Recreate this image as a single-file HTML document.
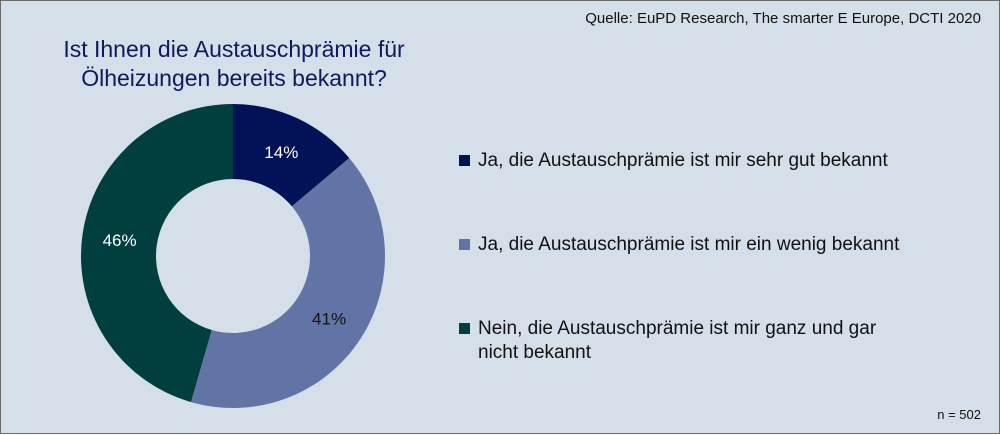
<!DOCTYPE html>
<html><head><meta charset="utf-8"><style>
html,body{margin:0;padding:0}
body{width:1000px;height:434px;overflow:hidden;font-family:"Liberation Sans",sans-serif}
#frame{position:absolute;left:0;top:0;width:998px;height:432px;border:1px solid #6b6b6b;background:#d5dfe9}
.t{position:absolute;white-space:nowrap}
.leg{position:absolute;left:458px;font-size:19px;color:#111;line-height:24px}
.sw{position:absolute;left:0;top:6px;width:11px;height:11px}
.leg span.txt{margin-left:19px;display:block}
</style></head><body>
<div id="frame">
<div class="t" style="right:18px;top:9px;font-size:15px;color:#111">Quelle: EuPD Research, The smarter E Europe, DCTI 2020</div>
<div class="t" style="left:0;width:466px;top:34px;font-size:23px;color:#0d1a5c;text-align:center;line-height:29px;white-space:normal">Ist Ihnen die Austauschprämie für<br>Ölheizungen bereits bekannt?</div>
<svg id="donut" width="470" height="434" style="position:absolute;left:0;top:0"></svg>
<div class="leg" style="top:148px"><div class="sw" style="background:#021257"></div><span class="txt">Ja, die Austauschprämie ist mir sehr gut bekannt</span></div>
<div class="leg" style="top:232px"><div class="sw" style="background:#6274a6"></div><span class="txt">Ja, die Austauschprämie ist mir ein wenig bekannt</span></div>
<div class="leg" style="top:316px"><div class="sw" style="background:#013f3e"></div><span class="txt">Nein, die Austauschprämie ist mir ganz und gar<br>nicht bekannt</span></div>
<div class="t" style="right:18px;top:406px;font-size:13px;color:#111">n = 502</div>
</div>
<script>
const categories=["Ja, sehr gut bekannt","Ja, ein wenig bekannt","Nein, gar nicht bekannt"];
const values=[14,41,46];
const labels=["14%","41%","46%"];
const colors=["#021257","#6274a6","#013f3e"];
const labelColors=["#fff","#111","#fff"];
const svg=document.getElementById('donut');
const NS="http://www.w3.org/2000/svg";
const cx=232,cy=255,R=152,r=77;
const total=values.reduce((a,b)=>a+b,0);
function pt(a,rad){return [cx+rad*Math.sin(a),cy-rad*Math.cos(a)];}
let a0=0;
values.forEach((v,i)=>{
  const a1=a0+v/total*2*Math.PI;
  const large=(a1-a0)>Math.PI?1:0;
  const [x0,y0]=pt(a0,R),[x1,y1]=pt(a1,R),[x2,y2]=pt(a1,r),[x3,y3]=pt(a0,r);
  const p=document.createElementNS(NS,'path');
  p.setAttribute('d',`M${x0},${y0}A${R},${R} 0 ${large} 1 ${x1},${y1}L${x2},${y2}A${r},${r} 0 ${large} 0 ${x3},${y3}Z`);
  p.setAttribute('fill',colors[i]);
  
  
  svg.appendChild(p);
  const am=(a0+a1)/2;
  const [lx,ly]=pt(am,(R+r)/2);
  const t=document.createElementNS(NS,'text');
  t.setAttribute('x',lx);t.setAttribute('y',ly+6);
  t.setAttribute('text-anchor','middle');
  t.setAttribute('font-size','17');
  t.setAttribute('font-family','Liberation Sans, sans-serif');
  t.setAttribute('fill',labelColors[i]);
  
  
  t.textContent=labels[i];
  svg.appendChild(t);
  a0=a1;
});
</script>
</body></html>
